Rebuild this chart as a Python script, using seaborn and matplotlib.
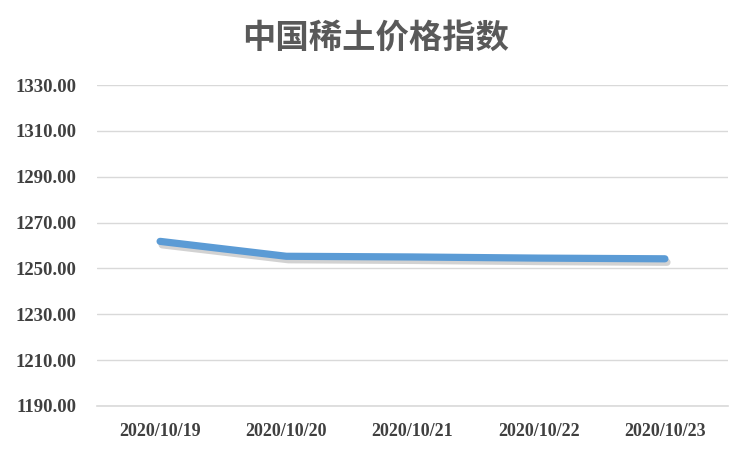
import matplotlib
matplotlib.use("Agg")
import matplotlib.pyplot as plt
import matplotlib.patheffects as pe
import seaborn as sns
import pandas as pd

# data
dates = ['2020/10/19', '2020/10/20', '2020/10/21', '2020/10/22', '2020/10/23']
index_values = [1261.8, 1255.3, 1255.0, 1254.5, 1254.2]
y_ticks = [1190, 1210, 1230, 1250, 1270, 1290, 1310, 1330]

df = pd.DataFrame({'date': dates, 'value': index_values})

sns.set_style('white')
plt.rcParams['font.family'] = ['Noto Sans CJK SC', 'DejaVu Sans']

fig = plt.figure(figsize=(7.52, 4.51), dpi=100)
ax = fig.add_axes([97 / 752, 1 - 406 / 451, (728 - 97) / 752, (406 - 85) / 451])

sns.lineplot(data=df, x='date', y='value', ax=ax, color='#5B9BD5', linewidth=5.2,
             solid_capstyle='round', sort=False,
             path_effects=[pe.SimpleLineShadow(offset=(1.5, -2.5), shadow_color='#7f7f7f', alpha=0.35),
                           pe.Normal()])

ax.set_xlim(-0.5, len(dates) - 0.5)
ax.set_ylim(1190, 1330)
ax.set_yticks(y_ticks)
ax.set_yticklabels(['%.2f' % v for v in y_ticks], family='Liberation Serif',
                   fontweight='bold', fontsize=13.5, color='#404040')
ax.set_xticks(range(len(dates)))
ax.set_xticklabels(dates, family='Liberation Serif', fontweight='bold',
                   fontsize=13, color='#404040')
ax.set_xticks([i - 0.5 for i in range(len(dates) + 1)], minor=True)
ax.tick_params(axis='x', which='major', length=0, pad=12)
ax.tick_params(axis='x', which='minor', length=5, color='#d9d9d9', width=1)
ax.tick_params(axis='y', length=0, pad=15)

ax.grid(axis='y', color='#d9d9d9', linewidth=1)
ax.set_axisbelow(True)
for s in ['top', 'right', 'left']:
    ax.spines[s].set_visible(False)
ax.spines['bottom'].set_color('#d9d9d9')
ax.spines['bottom'].set_linewidth(1.2)
ax.set_xlabel('')
ax.set_ylabel('')

fig.text(0.5, 1 - 38 / 451, '中国稀土价格指数', ha='center', va='center',
         fontsize=24, fontweight='bold', color='#595959')

fig.savefig('out.png', dpi=100, facecolor='white')
